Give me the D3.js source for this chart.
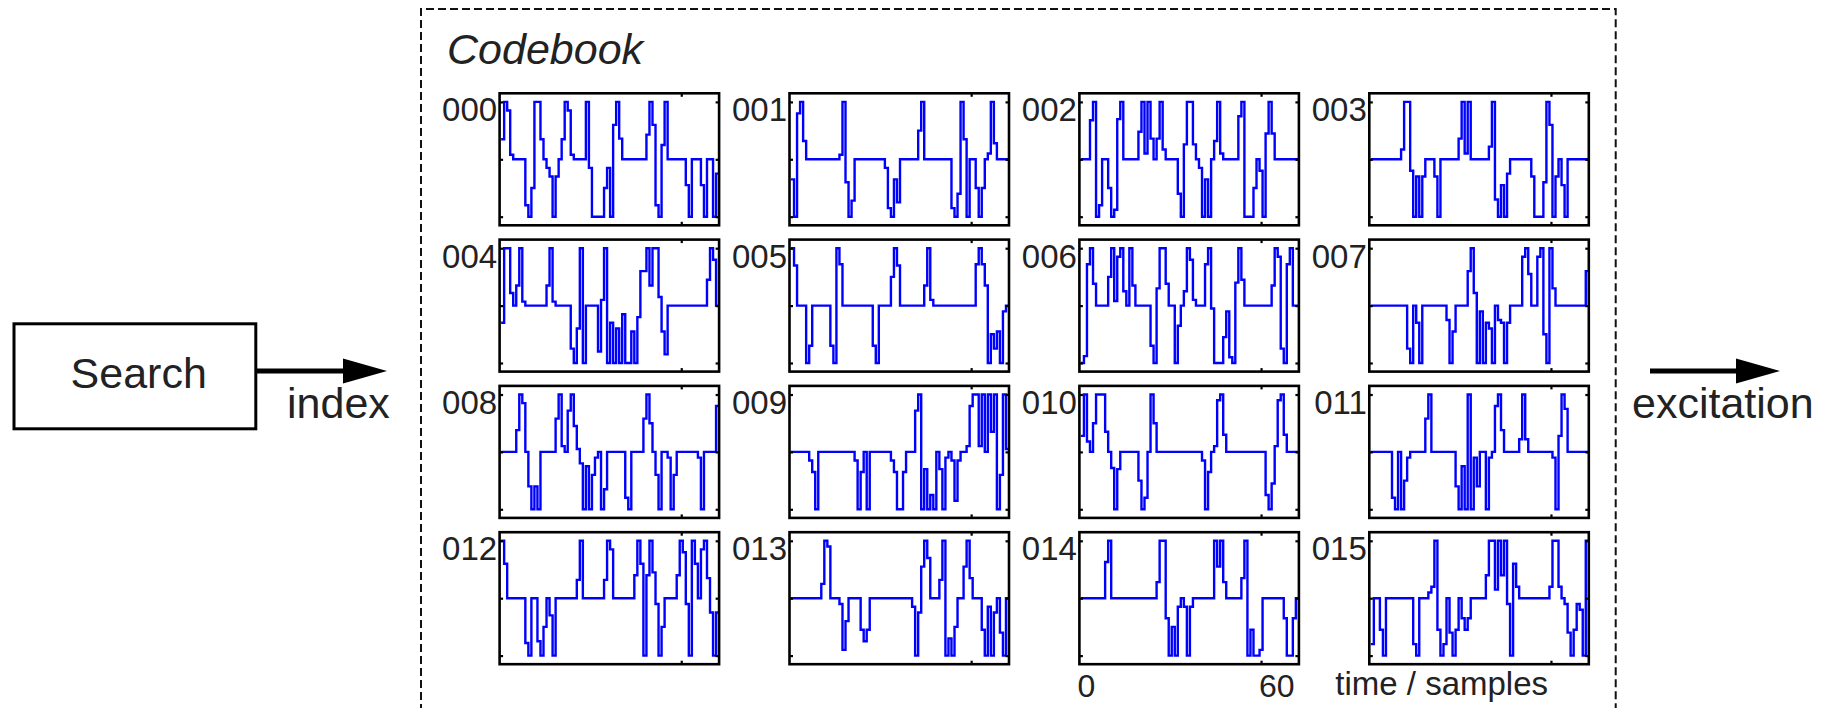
<!DOCTYPE html>
<html>
<head>
<meta charset="utf-8">
<script src="https://cdn.jsdelivr.net/npm/d3@7/dist/d3.min.js"></script>
<style>
    html, body { margin: 0; padding: 0; background: #fff; }
    svg { display: block; }
    text { font-family: "Liberation Sans", Arial, Helvetica, sans-serif; fill: #222; }
</style>
</head>
<body>
<svg id="chart" width="1829" height="708"></svg>
<script>
// Codeword indices shown next to each panel
const codeLabels = ['000', '001', '002', '003', '004', '005', '006', '007',
                    '008', '009', '010', '011', '012', '013', '014', '015'];

// Excitation codewords, one value per sample
const code000 = [0.35, 1, 0.85, 0.08, 0, 0, 0, 0, -0.8, -1, -0.5, 1, 1, 0.35, 0, -0.15, -0.3, -1, -0.3, 0, 0.35, 1, 0.85, 0.08, 0, 0, 0, 0, 1, -0.15, -1, -1, -1, -1, -0.5, -0.15, -1, 0.6, 1, 0.36, 0, 0, 0, 0, 0, 0, 0, 0, 0.43, 1, 0.6, -0.8, -1, 0.25, 1, 0, 0, 0, 0, 0, 0, -0.45, -1, 0, 0, 0, -0.45, -1, 0, 0, -1, -0.25];
const code001 = [-0.35, -1, 0.8, 1, 0.32, 0, 0, 0, 0, 0, 0, 0, 0, 0, 0, 0, 0.08, 1, -0.4, -1, -0.72, 0, 0, 0, 0, 0, 0, 0, 0, 0, 0, -0.15, -0.85, -1, -0.35, -0.75, 0, 0, 0, 0, 0, 0, 0.5, 1, 0, 0, 0, 0, 0, 0, 0, 0, 0, -0.85, -1, -0.6, 1, 0.35, -1, 0, 0, -0.5, -1, -0.5, 0, 0.1, 1, 0.28, 0, 0, 0, 0];
const code002 = [0, 0, 0, 0.68, 1, -1, -0.8, 0, 0, -0.5, -1, -0.88, 0.7, 1, 0, 0, 0, 0, 0, 0.48, 1, 0.1, 1, 0.36, 0, 0.36, 1, 0.17, 0, 0, 0, 0, -0.6, -1, 0.26, 1, 1, 0.26, 0, -0.15, -1, -0.35, -1, 0, 0.32, 1, 0.1, 0, 0, 0, 0, 0, 0.75, 1, -1, -1, -1, -0.5, 0, -0.2, -1, 0.45, 1, 0.45, 0, 0, 0, 0, 0, 0, 0, 0];
const code003 = [0, 0, 0, 0, 0, 0, 0, 0, 0, 0, 0.17, 1, 1, -0.2, -1, -0.3, -1, -0.3, 0, 0, 0, -0.3, -1, 0, 0, 0, 0, 0, 0, 0.36, 1, 0.1, 1, 0, 0, 0, 0, 0, 0, 0.22, 1, -0.7, -1, -0.45, -1, -0.25, 0, 0, 0, 0, 0, 0, 0, -0.3, -1, -1, -1, -0.4, 1, 0.6, -1, -0.3, 0, -0.45, -1, 0, 0, 0, 0, 0, 0, 0];
const code004 = [-0.3, 1, 1, 0.22, 0, 0.35, 1, 0.07, 0, 0, 0, 0, 0, 0, 0, 0.35, 1, 0.07, 0, 0, 0, 0, 0, -0.75, -1, -0.4, 1, -1, 0, 0, 0, 0, -0.8, 0.1, 1, -1, -0.3, -1, -0.4, -1, -0.15, -1, -1, -0.45, -1, -0.2, 0.6, 0.6, 1, 0.35, 1, 1, 0.15, -0.45, -0.85, 0, 0, 0, 0, 0, 0, 0, 0, 0, 0, 0, 0, 0, 0.45, 1, 0.8, 0];
const code005 = [1, 0.7, 0, 0, 0, -1, -0.7, 0, 0, 0, 0, 0, 0, -0.7, -1, 1, 0.72, 0, 0, 0, 0, 0, 0, 0, 0, 0, 0, -0.7, -1, 0, 0, 0, 0, 0.5, 1, 0.7, 0, 0, 0, 0, 0, 0, 0, 0, 0.35, 1, 0.1, 0, 0, 0, 0, 0, 0, 0, 0, 0, 0, 0, 0, 0, 0, 0.72, 1, 0.72, 0.35, -1, -0.5, -0.75, -0.45, -1, -0.1, 0];
const code006 = [-1, -0.88, 0.72, 1, 0.38, 0, 0, 0, 0, 0.5, 1, 0.08, 0.85, 1, 0.25, 0, 1, 0.35, 0, 0, 0, 0, 0, -0.7, -1, 0.3, 1, 1, 0.38, 0, 0, -1, -0.35, 0, 0.25, 1, 0.8, 0.1, 0, 0, 0, 0.72, 1, -0.05, -1, -1, -1, -0.55, -0.1, -0.9, -1, 0.4, 1, 0.45, 0, 0, 0, 0, 0, 0, 0, 0, 0, 0.35, 1, 0.85, -0.75, -1, 0.72, 1, 0, 0];
const code007 = [0, 0, 0, 0, 0, 0, 0, 0, 0, 0, 0, 0, -0.75, -1, 0, -0.3, -1, 0, 0, 0, 0, 0, 0, 0, 0, -0.25, -1, -0.45, 0, 0, 0, 0, 0.6, 1, 0.22, -1, -0.1, -1, -0.3, -0.4, -1, 0, -0.25, -0.3, -1, -0.3, 0, 0, 0, 0, 0.85, 1, 0.55, 0, 0, 0.85, 1, -0.5, -1, 1, 0.3, 0, 0, 0, 0, 0, 0, 0, 0, 0, 0, 0.6];
const code008 = [0, 0, 0, 0, 0, 0.38, 1, 0.85, 0, -0.6, -1, -0.6, -1, 0, 0, 0, 0, 0, 0.58, 1, 0.1, 0, 0.72, 1, 0.45, 0.05, -0.2, -1, -0.25, -1, -0.4, -0.1, 0, -1, -0.65, 0, 0, 0, 0, 0, 0, -0.8, -1, 0, 0, 0, 0, 0.58, 1, 0.5, 0, -0.4, -1, 0, 0, -0.1, -1, -0.4, 0, 0, 0, 0, 0, 0, 0, -0.1, -1, 0, 0, 0, 0, 0.8];
const code009 = [0, 0, 0, 0, 0, 0, -0.15, -0.35, -1, 0, 0, 0, 0, 0, 0, 0, 0, 0, 0, 0, 0, -0.15, -1, -0.35, 0, -1, 0, 0, 0, 0, 0, 0, 0, -0.15, -0.35, -1, -1, -0.35, 0, 0, 0, 0.72, 1, -1, -0.3, -1, -0.75, -1, 0, -0.3, -1, -0.1, 0, -0.15, -0.85, -0.15, 0, 0, 0.1, 0.8, 1, 1, 0.1, 1, 0, 1, 0.35, 1, -1, -0.4, 1, 0.05];
const code010 = [0.28, 1, 0.18, 0, 0.5, 1, 1, 1, 0.35, 0, -0.28, -1, -0.3, 0, 0, 0, 0, 0, 0, -0.5, -1, -0.8, 0, 1, 0.5, 0, 0, 0, 0, 0, 0, 0, 0, 0, 0, 0, 0, 0, 0, 0, -0.15, -1, -0.35, 0, 0.1, 0.9, 1, 0.3, 0, 0, 0, 0, 0, 0, 0, 0, 0, 0, 0, 0, 0, -0.75, -1, -0.55, 0.1, 0.9, 1, 0.3, 0, 0, 0, 0];
const code011 = [0, 0, 0, 0, 0, 0, 0, -0.8, -1, 0, -1, -0.5, -0.1, 0, 0, 0, 0, 0, 0.58, 1, 0, 0, 0, 0, 0, 0, 0, 0, -0.6, -1, -0.25, -1, 1, -1, -0.1, -0.6, 0, 0, -1, -0.1, 0, 0.8, 1, 0.38, 0, 0, 0, 0, 0, 0.22, 1, 0.22, 0, 0, 0, 0, 0, 0, 0, 0, -0.1, -1, 0.28, 1, 0.75, 0, 0, 0, 0, 0, 0, 0];
const code012 = [1, 0.6, 0, 0, 0, 0, 0, 0, -0.78, -1, 0, 0, -0.75, -1, -0.5, 0, -0.3, -1, 0, 0, 0, 0, 0, 0, 0, 0.32, 1, 0, 0, 0, 0, 0, 0, 0, 0.32, 1, 0.85, 0, 0, 0, 0, 0, 0, 0, 0.4, 1, 0.6, -1, 0.4, 1, 0.45, -0.1, -1, -0.5, 0, 0, 0, 0, 0.4, 1, 0.8, -0.1, -1, 1, 0.6, 0, 0.85, 1, 0.35, -0.25, -1, -0.25];
const code013 = [0, 0, 0, 0, 0, 0, 0, 0, 0, 0, 0.25, 1, 0.9, 0, 0, 0, -0.1, -0.9, -0.4, 0, 0, 0, 0, -0.55, -0.75, -0.55, 0, 0, 0, 0, 0, 0, 0, 0, 0, 0, 0, 0, 0, 0, -0.15, -1, -0.25, 0.55, 1, 0.7, 0, 0, 0, 0.32, 1, -1, -0.7, -1, -0.5, 0, 0, 0.55, 1, 0.35, 0, 0, 0, -0.55, -1, -0.15, -1, -0.25, 0, -0.6, -1, 0];
const code014 = [0, 0, 0, 0, 0, 0, 0, 0, 0.63, 1, 0, 0, 0, 0, 0, 0, 0, 0, 0, 0, 0, 0, 0, 0, 0, 0.28, 1, 1, -0.35, -1, -0.5, -1, -0.15, 0, -0.15, -1, -0.15, 0, 0, 0, 0, 0, 0, 0, 1, 0.55, 1, 0.28, 0, 0, 0, 0, 0, 0.35, 1, -1, -0.55, -1, -1, -0.9, 0, 0, 0, 0, 0, 0, 0, -0.35, -1, -1, -0.35, 0];
const code015 = [-0.8, 0, 0, -0.55, -1, 0, 0, 0, 0, 0, 0, 0, 0, 0, -0.8, -1, 0, 0, 0, 0.1, 0.2, 1, -0.55, -1, -0.8, 0, -0.6, -1, -0.55, 0, -0.35, -0.55, -0.35, 0, 0, 0, 0, 0, 0.4, 1, 1, 0.15, 1, 0.4, 1, -0.1, -1, 0.6, 0.2, 0, 0, 0, 0, 0, 0, 0, 0, 0, 0, 0.2, 1, 1, 0.2, 0, -0.1, -0.6, -1, -0.55, -0.1, -0.2, -1, 1];

// Axis ticks
const yTicks = [-1, 0, 1];
const xTicks = [60];
const xTickLabels = [0, 60];
const xAxisTitle = 'time / samples';

(function () {
    const svg = d3.select('#chart');
    svg.append('rect').attr('width', 1829).attr('height', 708).attr('fill', '#fff');

    const codebook = [code000, code001, code002, code003, code004, code005, code006, code007,
                      code008, code009, code010, code011, code012, code013, code014, code015];

    // --- Panel grid geometry ---
    const PANEL_W = 219.5;
    const PANEL_H = 132;
    const COL_X0 = 499.6, COL_STEP = 289.9;
    const ROW_Y0 = 93.3, ROW_STEP = 146.3;
    const N_COLS = 4;
    const LABEL_PANEL = 14; // panel that carries the x tick labels

    const x = d3.scaleLinear().domain([0, 72.5]).range([0, PANEL_W]);
    const y = d3.scaleLinear().domain([-1.15, 1.15]).range([PANEL_H, 0]);

    // stairs: each sample holds its value for one unit of time
    const stairs = d3.line()
        .x((d, i) => x(i + 0.5))
        .y(d => y(d))
        .curve(d3.curveStepAfter);

    svg.append('defs').append('clipPath')
        .attr('id', 'panel-clip')
        .append('rect')
        .attr('width', PANEL_W)
        .attr('height', PANEL_H);

    // --- Codebook frame (dashed) and title ---
    svg.append('path')
        .attr('d', 'M421,712 V9 H1615.7 V712')
        .attr('fill', 'none')
        .attr('stroke', '#111')
        .attr('stroke-width', 2)
        .attr('stroke-dasharray', '8,4');

    svg.append('text')
        .attr('x', 447)
        .attr('y', 63.5)
        .attr('font-size', 43)
        .attr('font-style', 'italic')
        .text('Codebook');

    codebook.forEach((vals, k) => {
        const col = k % N_COLS;
        const row = Math.floor(k / N_COLS);
        const px = COL_X0 + col * COL_STEP;
        const py = ROW_Y0 + row * ROW_STEP;

        const g = svg.append('g').attr('transform', `translate(${px},${py})`);

        g.append('path')
            .datum(vals.concat([vals[vals.length - 1]]))
            .attr('d', stairs)
            .attr('clip-path', 'url(#panel-clip)')
            .attr('fill', 'none')
            .attr('stroke', '#0000ff')
            .attr('stroke-width', 2.4);

        g.append('rect')
            .attr('width', PANEL_W)
            .attr('height', PANEL_H)
            .attr('fill', 'none')
            .attr('stroke', '#000')
            .attr('stroke-width', 2.6);

        // inward ticks on all four sides
        const axes = [
            { ax: d3.axisLeft(y).tickValues(yTicks), t: 'translate(0,0)' },
            { ax: d3.axisRight(y).tickValues(yTicks), t: `translate(${PANEL_W},0)` },
            { ax: d3.axisTop(x).tickValues(xTicks), t: 'translate(0,0)' },
            { ax: d3.axisBottom(x).tickValues(xTicks), t: `translate(0,${PANEL_H})` }
        ];
        axes.forEach(a => {
            const ag = g.append('g')
                .attr('transform', a.t)
                .call(a.ax.tickSize(-3.5).tickFormat(''));
            ag.select('.domain').remove();
            ag.selectAll('.tick line').attr('stroke', '#000').attr('stroke-width', 2.2);
        });

        g.append('text')
            .attr('x', -2.5)
            .attr('y', 28)
            .attr('text-anchor', 'end')
            .attr('font-size', 33)
            .text(codeLabels[k]);

        if (k === LABEL_PANEL) {
            g.selectAll('.xlab')
                .data(xTickLabels)
                .enter()
                .append('text')
                .attr('class', 'xlab')
                .attr('x', d => x(d) - 2)
                .attr('y', PANEL_H + 32.5)
                .attr('font-size', 32)
                .text(d => d);
        }
    });

    // x axis title under the last column
    svg.append('text')
        .attr('x', COL_X0 + 3 * COL_STEP - 34)
        .attr('y', ROW_Y0 + 3 * ROW_STEP + PANEL_H + 31)
        .attr('font-size', 33)
        .text(xAxisTitle);

    // --- Search block and arrows ---
    svg.append('rect')
        .attr('x', 14).attr('y', 323.8)
        .attr('width', 241.8).attr('height', 105)
        .attr('fill', 'none')
        .attr('stroke', '#000')
        .attr('stroke-width', 3);

    svg.append('text')
        .attr('x', 138.7)
        .attr('y', 388)
        .attr('text-anchor', 'middle')
        .attr('font-size', 43)
        .text('Search');

    function arrow(x0, x1, yy) {
        svg.append('line')
            .attr('x1', x0).attr('x2', x1 - 40)
            .attr('y1', yy).attr('y2', yy)
            .attr('stroke', '#000')
            .attr('stroke-width', 5);
        svg.append('path')
            .attr('d', `M${x1 - 44},${yy - 12.5} L${x1},${yy} L${x1 - 44},${yy + 12.5} Z`)
            .attr('fill', '#000');
    }
    arrow(257, 387, 371);
    arrow(1650, 1780, 371);

    svg.append('text')
        .attr('x', 287)
        .attr('y', 418)
        .attr('font-size', 43)
        .text('index');

    svg.append('text')
        .attr('x', 1632)
        .attr('y', 418)
        .attr('font-size', 43)
        .text('excitation');
})();
</script>
</body>
</html>
